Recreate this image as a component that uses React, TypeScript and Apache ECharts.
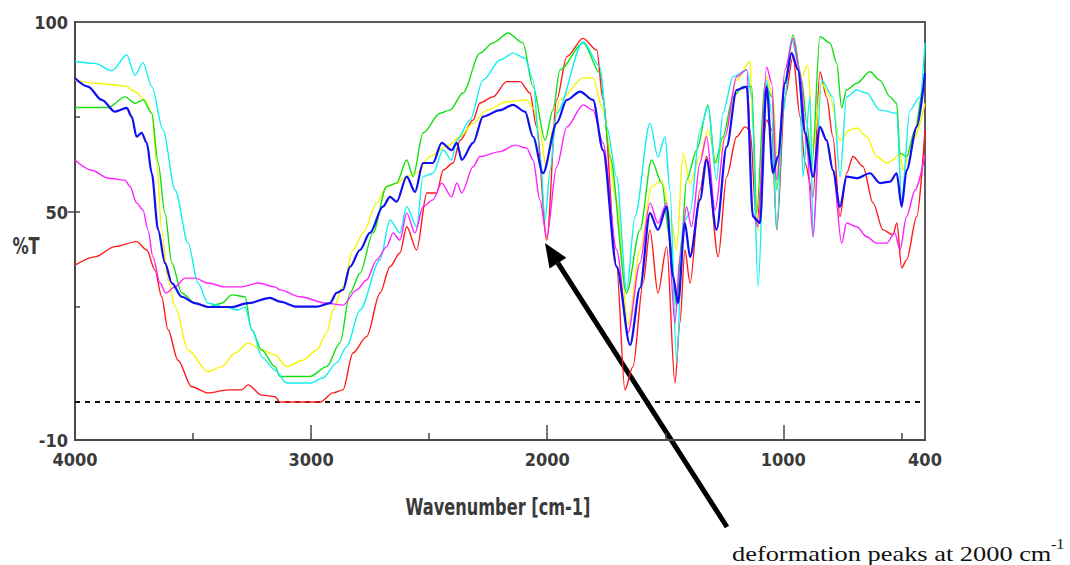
import React, { useEffect, useRef } from "react";
import * as echarts from "echarts";

// wavenumber [cm-1], %T
const red: [number, number][] = [
  [4000, 36], [3915, 38.2], [3831, 40.9], [3739, 42.2], [3696, 40], [3661, 34.7], [3633, 27.7], [3606, 19],
  [3564, 11], [3506, 4], [3437, 2.4], [3352, 3.2], [3294, 3.2], [3267, 4.5], [3209, 1.8], [3153, 1.4],
  [3132, 0], [2962, 0], [2907, 2.4], [2865, 3.2], [2823, 12.9], [2765, 17.2], [2708, 28.7], [2666, 35.6],
  [2624, 39.2], [2595, 46.1], [2553, 40], [2510, 55], [2468, 55], [2441, 61], [2399, 62.9], [2369, 68.9],
  [2314, 74.2], [2285, 78.7], [2230, 80.3], [2172, 84.3], [2115, 84.3], [2073, 81.3], [2045, 72.4], [2002, 42.6],
  [1960, 79.5], [1917, 90.9], [1848, 95.7], [1790, 92.6], [1764, 79.5], [1706, 35.6], [1671, 3.2], [1637, 9.3],
  [1594, 31.3], [1565, 45.3], [1531, 28.7], [1494, 40.9], [1459, 5], [1438, 20.8], [1417, 40], [1395, 31.3],
  [1353, 55.8], [1325, 64.6], [1276, 38.2], [1240, 59.3], [1198, 69.8], [1162, 72.4], [1141, 71.6], [1113, 47.1],
  [1071, 74.2], [1049, 71.6], [1028, 45.3], [993, 80.3], [959, 90.9], [929, 75], [908, 62.9], [874, 54],
  [845, 86.9], [817, 80.3], [790, 69.8], [760, 48.8], [732, 60.2], [705, 64.6], [663, 62], [620, 52.4],
  [578, 45.3], [536, 44], [519, 47.1], [499, 35.3], [478, 37.4], [435, 48.8], [400, 71.6],
];

const yellow: [number, number][] = [
  [4000, 84.7], [3915, 83.9], [3788, 83.2], [3746, 81.7], [3704, 79.5], [3675, 76], [3654, 62.9], [3633, 45.3],
  [3606, 32.1], [3576, 25.1], [3521, 13.7], [3437, 8], [3379, 9.3], [3322, 12.9], [3267, 15.5], [3209, 13.7],
  [3153, 12.4], [3103, 9.3], [3034, 11], [2976, 13.7], [2934, 18.2], [2907, 24.2], [2865, 30.3], [2823, 40],
  [2780, 44.5], [2722, 52.4], [2680, 56.7], [2638, 57.6], [2595, 59.3], [2553, 60.3], [2496, 64.6], [2426, 67.2],
  [2369, 69.8], [2314, 73.4], [2256, 76.8], [2172, 79], [2087, 79.5], [2060, 77.4], [2031, 71.6], [2005, 62],
  [1976, 72], [1946, 79.5], [1848, 85.3], [1806, 85.3], [1764, 76.8], [1706, 53.2], [1658, 20.3], [1607, 40],
  [1558, 56.7], [1515, 58.4], [1473, 47.1], [1452, 40], [1425, 65.5], [1395, 57.6], [1353, 64.6], [1319, 71.6],
  [1283, 62.9], [1247, 69.8], [1198, 84.7], [1141, 89.6], [1129, 71.6], [1107, 45], [1071, 85.6], [1044, 80.3],
  [1023, 61], [993, 84.7], [959, 95.3], [922, 85.6], [896, 88.7], [875, 67.2], [838, 83.9], [802, 80.3],
  [760, 68.9], [718, 71.6], [689, 72.1], [647, 69.8], [605, 64.6], [562, 62.9], [536, 63.7], [506, 65.5],
  [493, 61], [451, 68.9], [400, 78.6],
];

const green: [number, number][] = [
  [4000, 77.5], [3860, 77.5], [3788, 80.3], [3746, 78.6], [3712, 79.5], [3675, 76], [3648, 62.9], [3619, 49.7],
  [3590, 36.6], [3548, 28.7], [3492, 26], [3437, 25], [3379, 26], [3336, 28.2], [3280, 27.7], [3252, 19],
  [3209, 13.7], [3153, 9.3], [3132, 6.7], [3005, 6.7], [2934, 9.3], [2878, 15.5], [2835, 28.7], [2793, 33.9],
  [2738, 44.5], [2680, 56.7], [2638, 57.6], [2595, 63.7], [2568, 59.3], [2526, 70.8], [2454, 76], [2412, 76.8],
  [2357, 81.3], [2285, 91.8], [2230, 94.5], [2166, 97.1], [2103, 94.5], [2060, 83], [2009, 68.9], [1976, 76.8],
  [1946, 87.4], [1848, 94.5], [1776, 86.6], [1734, 64.5], [1664, 28.7], [1607, 45.3], [1558, 63.7], [1515, 57.6],
  [1480, 42.6], [1452, 25.1], [1431, 42.6], [1410, 58.4], [1367, 66.3], [1319, 78.2], [1289, 62.9], [1256, 69.8],
  [1213, 80.3], [1171, 83], [1134, 83], [1113, 49.7], [1078, 83.9], [1049, 80.3], [1028, 55.8], [993, 84.7],
  [959, 96.6], [922, 84.7], [901, 73.4], [879, 62], [845, 96.1], [802, 94.5], [774, 89.2], [753, 77.4],
  [732, 82.1], [689, 83.9], [633, 86.9], [591, 84.7], [548, 80.3], [520, 78.6], [506, 65.5], [478, 64.6],
  [442, 71.6], [409, 82.1], [400, 86.6],
];

const cyan: [number, number][] = [
  [4000, 89.6], [3915, 89.1], [3843, 87.2], [3781, 91.3], [3746, 86], [3712, 89.3], [3675, 83], [3627, 71.6],
  [3576, 55.8], [3521, 41.8], [3479, 31.3], [3437, 26], [3365, 25], [3310, 24.2], [3280, 25], [3250, 19],
  [3208, 11.8], [3153, 8.4], [3103, 5], [3005, 5], [2950, 6.3], [2892, 10.3], [2849, 14.6], [2793, 24.2],
  [2708, 37.4], [2666, 47.9], [2624, 44.5], [2595, 51.4], [2553, 46.1], [2526, 59.3], [2484, 60.2], [2441, 66.3],
  [2405, 63.7], [2383, 68.9], [2327, 74.2], [2272, 84.7], [2200, 90], [2145, 91.8], [2094, 90.5], [2060, 84.7],
  [2031, 65.5], [2009, 47.9], [1988, 61], [1960, 76], [1848, 94.8], [1776, 88.2], [1748, 72.4], [1706, 59.3],
  [1664, 29.5], [1628, 48.8], [1565, 73.4], [1531, 64.5], [1501, 69.8], [1480, 55.8], [1452, 10.3], [1425, 47.1],
  [1395, 49.7], [1353, 71.6], [1319, 77.7], [1283, 58.4], [1256, 76], [1213, 85.6], [1155, 87.4], [1134, 80.3],
  [1107, 30.3], [1071, 84.7], [1050, 76], [1028, 45.3], [1001, 76], [965, 95.3], [929, 87.4], [917, 59.3],
  [887, 80.3], [874, 43.5], [838, 84.7], [790, 80.3], [760, 59.3], [732, 80.3], [689, 82.1], [647, 81.3],
  [591, 76.8], [520, 76], [499, 53.2], [464, 76.8], [421, 80.3], [400, 94.5],
];

const magenta: [number, number][] = [
  [4000, 63.7], [3929, 61], [3860, 58.9], [3788, 58.4], [3767, 56.7], [3739, 52.4], [3712, 50.5], [3691, 45.3],
  [3670, 38.2], [3640, 31.3], [3616, 28.7], [3576, 30.3], [3534, 32.6], [3492, 32.6], [3437, 31.3], [3365, 30.3],
  [3294, 30.3], [3225, 31.3], [3153, 30.3], [3132, 29.5], [3047, 27.7], [2934, 26], [2865, 25.5], [2807, 29.5],
  [2765, 32.1], [2722, 37.4], [2680, 40.9], [2653, 44.5], [2624, 42.6], [2595, 49.7], [2560, 44.5], [2526, 51.4],
  [2484, 53.2], [2447, 57.6], [2405, 54], [2383, 57.6], [2362, 55], [2314, 61.9], [2285, 64.6], [2200, 65.9],
  [2136, 67.6], [2087, 66.8], [2060, 63.7], [2031, 53.2], [2002, 43.5], [1960, 61.9], [1917, 72.4], [1848, 78.2],
  [1806, 76.8], [1764, 68.2], [1706, 40], [1658, 18.2], [1607, 36.6], [1565, 52.4], [1531, 47.1], [1494, 52.4],
  [1459, 20.8], [1438, 38.2], [1410, 51.4], [1389, 46.1], [1353, 62.9], [1325, 69.8], [1289, 50.5], [1247, 69.8],
  [1198, 85.6], [1155, 87.4], [1129, 49.7], [1107, 46.1], [1071, 88.2], [1049, 83.9], [1028, 58.4], [993, 87.4],
  [959, 95.7], [929, 86.6], [901, 67.2], [874, 43.5], [845, 72.4], [817, 68.9], [790, 61], [753, 41.8],
  [732, 47.1], [689, 46.1], [647, 43.5], [605, 41.8], [562, 41.8], [528, 44.5], [506, 40], [478, 48.8],
  [442, 55.8], [400, 65],
];

const blue: [number, number][] = [
  [4000, 85.2], [3945, 83], [3887, 79.5], [3831, 76.4], [3781, 77.4], [3760, 75.1], [3739, 69.8], [3718, 70.8],
  [3696, 68.2], [3675, 60.2], [3648, 45.3], [3619, 36.6], [3590, 31.3], [3548, 27.7], [3492, 26], [3437, 25],
  [3336, 25], [3267, 26], [3174, 27.4], [3132, 26.4], [3061, 25.1], [2976, 25.1], [2920, 26], [2892, 28.7],
  [2865, 29.5], [2835, 35.6], [2793, 40], [2751, 44.5], [2696, 51.4], [2666, 54], [2638, 52.7], [2595, 59.3],
  [2560, 55.3], [2526, 62.9], [2484, 62.9], [2447, 68.2], [2405, 66.3], [2383, 68.2], [2362, 63.7], [2314, 68.2],
  [2272, 75.1], [2200, 76.8], [2145, 78.2], [2094, 76.4], [2060, 69.8], [2018, 60.2], [1960, 73.4], [1917, 79.5],
  [1861, 81.7], [1806, 79.5], [1764, 66.3], [1706, 35.6], [1649, 15], [1607, 30], [1565, 49.7], [1531, 45.3],
  [1494, 51.4], [1467, 33], [1446, 26], [1417, 47.1], [1395, 38.2], [1353, 53.2], [1325, 63.7], [1283, 45.3],
  [1240, 67.2], [1198, 82.1], [1155, 83], [1129, 48.8], [1099, 47.1], [1071, 83], [1044, 60.2], [1023, 64.6],
  [993, 83.9], [965, 91.8], [938, 87.4], [908, 70.8], [874, 59.3], [845, 72.4], [817, 68.9], [790, 61],
  [760, 51.4], [732, 59.3], [689, 58.9], [633, 60.2], [591, 57.6], [548, 58], [520, 60.2], [499, 51.4],
  [478, 61], [435, 72.4], [400, 86.6],
];

const baseline: [number, number][] = [[4000, 0], [400, 0]];

const X_LABELS = [4000, 3000, 2000, 1000, 400];
const X_MAJOR_TICKS = [3000, 2000, 1000];
const X_MINOR_TICKS = [3500, 2500, 1500, 500];
const Y_LABELS = [-10, 50, 100];
const Y_TICKS = [25, 50, 75];

const NARROW = "'Liberation Sans Narrow', 'DejaVu Sans Condensed', 'Arial Narrow', sans-serif";
const TEXT = "#3a3a3a";

export default function App() {
  const ref = useRef<HTMLDivElement>(null);

  useEffect(() => {
    document.body.style.margin = "0";
    const chart = echarts.init(ref.current!, null, { renderer: "svg" });

    const mk = (name: string, data: [number, number][], color: string, width: number) => ({
      name,
      type: "line",
      data,
      showSymbol: false,
      symbol: "none",
      smooth: 0.3,
      smoothMonotone: "x",
      lineStyle: { color, width },
      itemStyle: { color },
      silent: true,
    });

    const series: any[] = [
      {
        name: "baseline",
        type: "line",
        data: baseline,
        showSymbol: false,
        symbol: "none",
        silent: true,
        lineStyle: { color: "#111", width: 2, type: [5, 5] },
        z: 1,
      },
      mk("red", red, "#ff1a1a", 1.4),
      mk("yellow", yellow, "#f5f500", 1.4),
      mk("green", green, "#12e012", 1.4),
      mk("cyan", cyan, "#10f0f0", 1.4),
      mk("magenta", magenta, "#ff20ff", 1.4),
      mk("blue", blue, "#1010f0", 2.2),
    ];

    const tipX = 545, tipY = 243, endX = 727, endY = 527;
    const dx = tipX - endX, dy = tipY - endY;
    const len = Math.sqrt(dx * dx + dy * dy);
    const ux = dx / len, uy = dy / len;
    const nx = -uy, ny = ux;
    const headL = 24, headW = 10;
    const bx = tipX - headL * ux, by = tipY - headL * uy;

    const labelStyle = { color: TEXT, fontFamily: NARROW, fontSize: 18, fontWeight: "bold" };

    chart.setOption({
      animation: false,
      backgroundColor: "#ffffff",
      grid: {
        left: 75, right: 145, top: 22, bottom: 125,
        show: true, borderColor: "#5a5a5a", borderWidth: 2,
      },
      xAxis: [
        {
          type: "value", min: 400, max: 4000, inverse: true, position: "bottom",
          axisLine: { show: true, onZero: false, lineStyle: { color: "#4a4a4a", width: 2 } },
          axisTick: { show: true, inside: true, length: 15, customValues: X_MAJOR_TICKS, lineStyle: { color: "#444", width: 1.5 } },
          axisLabel: { customValues: X_LABELS, margin: 10, formatter: (v: number) => String(v), ...labelStyle },
          splitLine: { show: false },
        },
        {
          type: "value", min: 400, max: 4000, inverse: true, position: "bottom",
          axisLine: { show: false, onZero: false },
          axisTick: { show: true, inside: true, length: 7, customValues: X_MINOR_TICKS, lineStyle: { color: "#444", width: 1.5 } },
          axisLabel: { show: false },
          splitLine: { show: false },
        },
      ],
      yAxis: [
        {
          type: "value", min: -10, max: 100, position: "left",
          axisLine: { show: true, onZero: false, lineStyle: { color: "#4a4a4a", width: 2 } },
          axisTick: { show: true, inside: true, length: 5, customValues: Y_TICKS, lineStyle: { color: "#444", width: 1.5 } },
          axisLabel: { customValues: Y_LABELS, margin: 7, formatter: (v: number) => String(v), ...labelStyle },
          splitLine: { show: false },
        },
        {
          type: "value", min: -10, max: 100, position: "left",
          axisLine: { show: false, onZero: false },
          axisTick: { show: true, inside: false, length: 7, customValues: [50], lineStyle: { color: "#444", width: 1.5 } },
          axisLabel: { show: false },
          splitLine: { show: false },
        },
      ],
      series,
      graphic: [
        {
          type: "text", x: 26, y: 246, scaleY: 1.25,
          style: { text: "%T", fill: TEXT, font: `bold 18px ${NARROW}`, align: "center", verticalAlign: "middle" },
        },
        {
          type: "text", x: 498, y: 507, scaleY: 1.25,
          style: { text: "Wavenumber [cm-1]", fill: TEXT, font: `bold 18px ${NARROW}`, align: "center", verticalAlign: "middle" },
        },
        {
          type: "line",
          shape: { x1: endX, y1: endY, x2: bx, y2: by },
          style: { stroke: "#000", lineWidth: 5 },
        },
        {
          type: "polygon",
          shape: {
            points: [
              [tipX, tipY],
              [bx + nx * headW, by + ny * headW],
              [bx - nx * headW, by - ny * headW],
            ],
          },
          style: { fill: "#000" },
        },
        {
          type: "text", x: 732, y: 553, scaleX: 1.2,
          style: { text: "deformation peaks at 2000 cm", fill: "#111", font: "22px 'Liberation Serif', 'DejaVu Serif', serif", align: "left", verticalAlign: "middle" },
        },
        {
          type: "text", x: 1051, y: 544, scaleX: 1.15,
          style: { text: "-1", fill: "#111", font: "14px 'Liberation Serif', 'DejaVu Serif', serif", align: "left", verticalAlign: "middle" },
        },
      ],
    });

    return () => chart.dispose();
  }, []);

  return <div ref={ref} style={{ width: 1070, height: 565 }} />;
}
